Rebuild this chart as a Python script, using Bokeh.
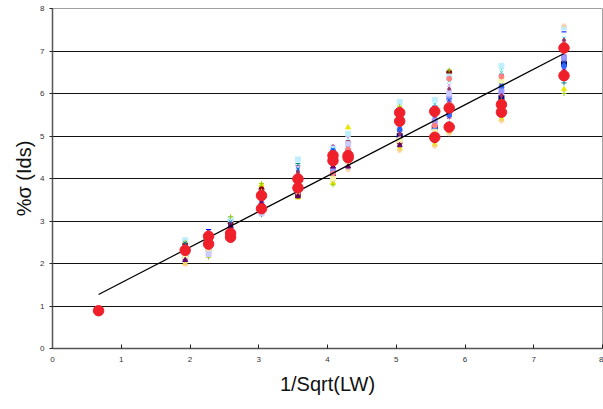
from bokeh.plotting import figure
from bokeh.embed import file_html
from bokeh.resources import INLINE
from bokeh.models import FixedTicker

# Strip positions (1/Sqrt(LW))
x_pos = [1.93, 2.27, 2.59, 3.04, 3.57, 4.08, 4.30, 5.05, 5.56, 5.77, 6.53, 7.44]

# Small markers: individual samples (estimated)
s1 = [2.20, 2.40, 2.70, 3.30, 3.70, 4.05, 4.40, 5.00, 5.20, 5.60, 5.90, 6.70]
s2 = [2.35, 2.60, 2.85, 3.45, 3.90, 4.30, 4.55, 5.20, 5.40, 5.85, 6.10, 6.90]
s3 = [2.00, 2.25, 2.55, 3.85, 3.55, 3.90, 5.20, 4.70, 4.80, 5.10, 5.40, 6.10]
s4 = [2.50, 2.20, 3.00, 3.20, 4.20, 4.60, 4.25, 5.50, 5.75, 6.30, 6.50, 7.30]
s5 = [2.10, 2.75, 2.65, 3.60, 4.00, 4.75, 4.70, 5.35, 5.05, 5.45, 6.20, 6.55]
s6 = [2.45, 2.30, 2.95, 3.75, 3.60, 4.15, 4.85, 4.85, 4.90, 6.50, 5.75, 7.10]
s7 = [2.28, 2.50, 2.75, 3.15, 4.35, 4.45, 4.35, 5.65, 5.55, 5.30, 6.60, 6.25]
s8 = [2.05, 2.80, 2.90, 3.50, 3.80, 3.95, 4.60, 5.10, 5.70, 6.05, 5.50, 7.45]
s9 = [2.55, 2.70, 3.05, 3.35, 4.45, 4.70, 5.05, 5.80, 5.85, 6.40, 6.65, 7.55]
s10 = [2.30, 2.45, 2.60, 3.40, 4.10, 4.35, 4.50, 5.45, 5.30, 5.95, 6.35, 7.20]
s11 = [2.15, 2.35, 2.80, 3.55, 3.95, 4.50, 4.80, 4.95, 5.25, 5.70, 6.00, 6.80]
s12 = [2.40, 2.55, 2.70, 3.25, 4.25, 4.25, 4.95, 5.25, 5.60, 6.20, 6.25, 6.95]
s13 = [1.98, 2.18, 2.52, 3.70, 3.65, 4.10, 4.20, 4.65, 4.75, 5.05, 5.35, 7.60]
s14 = [2.25, 2.65, 2.85, 3.30, 4.05, 4.65, 4.65, 5.15, 5.15, 5.50, 6.15, 6.65]
s15 = [2.50, 2.15, 3.10, 3.88, 3.75, 3.85, 4.45, 5.70, 5.50, 6.55, 5.85, 6.00]
s16 = [2.12, 2.60, 2.58, 3.45, 4.30, 4.55, 4.30, 5.40, 5.45, 5.80, 6.45, 7.00]
s17 = [2.22, 2.42, 2.68, 3.38, 3.85, 4.20, 4.62, 5.30, 5.35, 5.90, 6.05, 6.85]
s18 = [2.38, 2.52, 2.92, 3.52, 4.15, 4.40, 4.75, 5.05, 5.65, 6.10, 5.95, 7.25]
s19 = [2.18, 2.32, 2.62, 3.22, 3.72, 4.00, 4.38, 4.90, 5.10, 5.65, 6.30, 6.45]
s20 = [2.42, 2.72, 2.78, 3.62, 4.38, 4.60, 4.92, 5.60, 5.80, 6.25, 6.55, 7.40]
s21 = [2.08, 2.48, 2.88, 3.42, 3.58, 4.28, 4.28, 4.78, 4.95, 5.25, 5.60, 6.35]
s22 = [2.32, 2.38, 2.64, 3.28, 3.98, 4.12, 4.68, 5.50, 5.25, 6.35, 6.40, 7.15]
s23 = [2.48, 2.58, 2.98, 3.68, 4.22, 4.68, 4.52, 5.18, 5.48, 5.85, 6.20, 6.75]
s24 = [2.26, 2.22, 2.56, 3.18, 3.88, 4.38, 4.82, 5.38, 5.62, 6.00, 5.65, 7.05]
series = [s1, s2, s3, s4, s5, s6, s7, s8, s9, s10, s11, s12,
          s13, s14, s15, s16, s17, s18, s19, s20, s21, s22, s23, s24]

# Red dots (means)
red_x = [0.67, 1.93, 2.27, 2.27, 2.59, 2.59, 3.04, 3.04, 3.57, 3.57, 4.08, 4.08,
         4.30, 4.30, 5.05, 5.05, 5.56, 5.56, 5.77, 5.77, 6.53, 6.53, 7.44, 7.44]
red_y = [0.89, 2.31, 2.64, 2.46, 2.71, 2.62, 3.60, 3.29, 3.99, 3.78, 4.54, 4.42,
         4.54, 4.49, 5.55, 5.35, 5.58, 4.97, 5.66, 5.21, 5.74, 5.56, 7.07, 6.42]

# Trend line
trend_x = [0.67, 7.44]
trend_y = [1.27, 6.94]

colors = ["#000080", "#FF00FF", "#E8E800", "#33CCCC", "#800080", "#800000",
          "#008080", "#0000FF", "#BFEFFF", "#99CCFF", "#FF99CC", "#CC99FF",
          "#FFCC99", "#3366FF", "#99CC00", "#666699",
          "#9999FF", "#993366", "#F5F5B0", "#CCFFFF", "#660066", "#FF8080",
          "#0066CC", "#CCCCFF"]
markers = ["square", "diamond", "triangle", "x", "asterisk", "circle",
           "cross", "dash", "square", "diamond", "triangle", "x",
           "asterisk", "circle", "cross", "dash",
           "square", "diamond", "square", "dash", "triangle", "circle",
           "x", "square"]

p = figure(width=603, height=409, output_backend="svg", toolbar_location=None,
           x_range=(0, 8), y_range=(0, 8),
           min_border_left=52, min_border_right=1, min_border_top=8, min_border_bottom=61)

p.background_fill_color = "white"
p.border_fill_color = "white"
p.outline_line_color = "#A0A0A0"
p.outline_line_width = 1

p.xgrid.grid_line_color = None
p.ygrid.grid_line_color = "#111111"
p.ygrid.grid_line_width = 1
p.ygrid.ticker = FixedTicker(ticks=list(range(0, 9)))

p.xaxis.ticker = FixedTicker(ticks=list(range(0, 9)))
p.yaxis.ticker = FixedTicker(ticks=list(range(0, 9)))
p.xaxis.minor_tick_line_color = None
p.yaxis.minor_tick_line_color = None
p.xaxis.major_tick_in = 4
p.xaxis.major_tick_out = 0
p.yaxis.major_tick_in = 0
p.yaxis.major_tick_out = 3
for ax in (p.xaxis, p.yaxis):
    ax.axis_line_color = "#555555"
    ax.axis_line_width = 1.5
    ax.major_tick_line_color = "#222222"
    ax.major_label_text_font = "Liberation Sans"
    ax.major_label_text_font_size = "8px"
    ax.major_label_text_color = "#333333"
    ax.axis_label_text_font = "Liberation Sans"
    ax.axis_label_text_font_size = "20px"
    ax.axis_label_text_font_style = "normal"
    ax.axis_label_text_color = "#111111"

p.xaxis.axis_label = "1/Sqrt(LW)"
p.yaxis.axis_label = "%σ (Ids)"
p.xaxis.major_label_standoff = 8
p.xaxis.axis_label_standoff = 8
p.yaxis.major_label_standoff = 5
p.yaxis.axis_label_standoff = 2

for s, c, m in zip(series, colors, markers):
    p.scatter(x_pos, s, marker=m, size=5, fill_color=c, line_color=c, line_width=1)

p.line(trend_x, trend_y, line_color="black", line_width=1.2)

p.scatter(red_x, red_y, marker="circle", size=10.5, fill_color="#F0202A", line_color="#F0202A")

open("out.html", "w").write(file_html(p, INLINE))
